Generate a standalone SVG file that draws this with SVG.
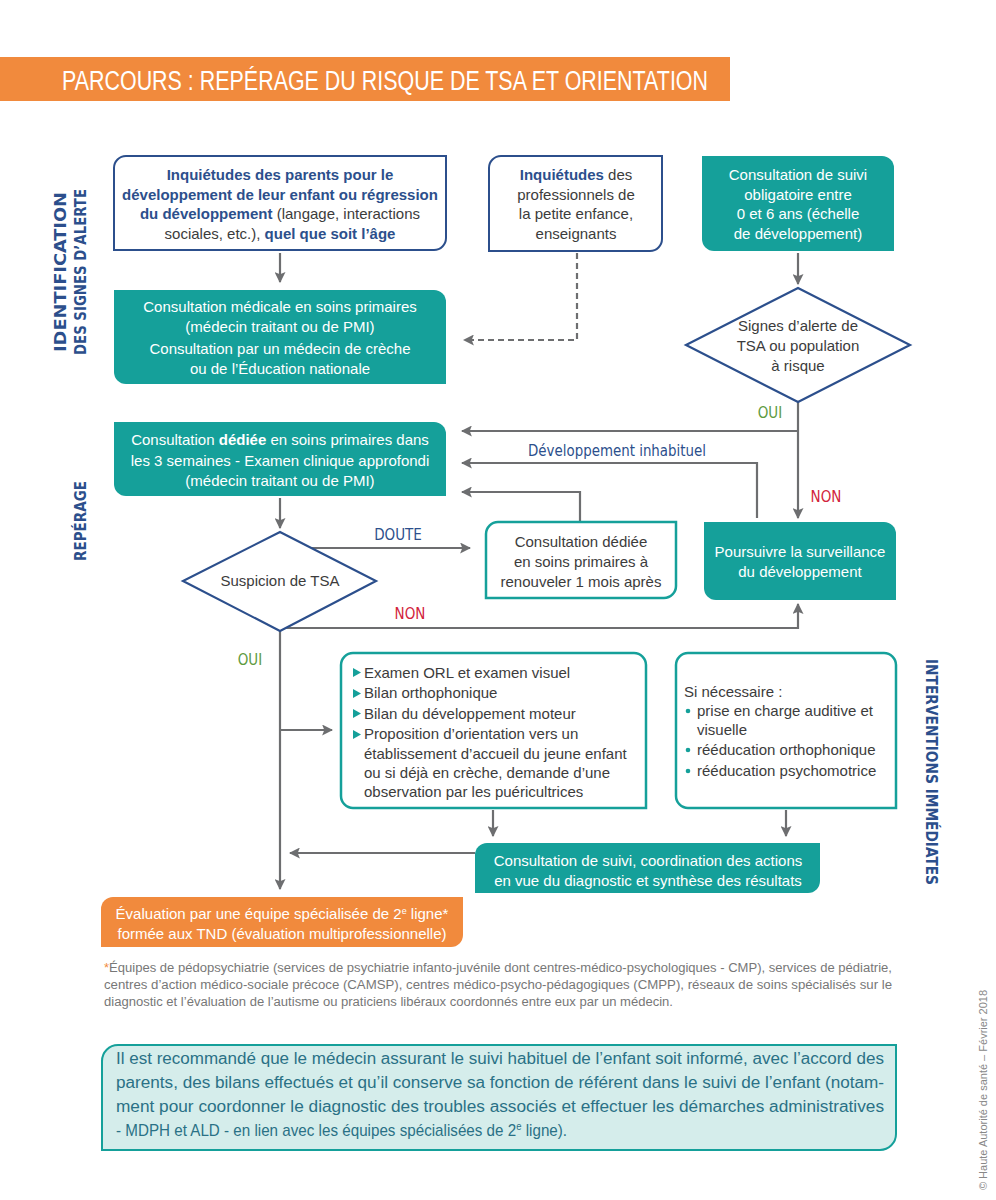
<svg xmlns="http://www.w3.org/2000/svg" width="996" height="1200" viewBox="0 0 996 1200">
<defs>
<marker id="ah" viewBox="0 0 10 10" refX="9" refY="5" markerWidth="11" markerHeight="11" markerUnits="userSpaceOnUse" orient="auto">
<path d="M0,0 L10,5 L0,10 L2,5 Z" fill="#6d6e70"/>
</marker>
<style>
text{font-family:"Liberation Sans",Arial,sans-serif;}
.t{font-size:15px;fill:#3c3c3c;}
.w{font-size:15px;fill:#ffffff;}
.b{font-weight:bold;fill:#2c4f8c;}
.blue{fill:#ffffff;stroke:#2c4f8c;stroke-width:2;}
.teal{fill:#15a09a;}
.tealb{fill:#ffffff;stroke:#15a09a;stroke-width:2.5;}
.ln{fill:none;stroke:#6d6e70;stroke-width:2.2;}
.lab{font-family:"DejaVu Sans Condensed","Liberation Sans",sans-serif;font-size:15px;}
.side{font-family:"DejaVu Sans Condensed","Liberation Sans",sans-serif;font-size:16px;font-weight:bold;fill:#2c4f8c;}
.fn{font-size:12px;fill:#777777;}
.bt{font-size:16px;fill:#2a7186;}
</style>
</defs>
<rect width="996" height="1200" fill="#ffffff"/>

<g id="title">
<rect x="0" y="57" width="730" height="44" fill="#f18a3d"/>
<text x="62" y="90" font-family="DejaVu Sans Condensed, Liberation Sans, sans-serif" font-size="27" fill="#ffffff" textLength="646" lengthAdjust="spacingAndGlyphs">PARCOURS : REPÉRAGE DU RISQUE DE TSA ET ORIENTATION</text>
</g>

<g id="side-labels">
<text class="side" transform="translate(66,272) rotate(-90)" text-anchor="middle" textLength="160" lengthAdjust="spacingAndGlyphs">IDENTIFICATION</text>
<text class="side" transform="translate(86,272) rotate(-90)" text-anchor="middle" textLength="166" lengthAdjust="spacingAndGlyphs">DES SIGNES D’ALERTE</text>
<text class="side" transform="translate(86,521) rotate(-90)" text-anchor="middle" textLength="80" lengthAdjust="spacingAndGlyphs">REPÉRAGE</text>
<text class="side" transform="translate(926,772) rotate(90)" text-anchor="middle" textLength="226" lengthAdjust="spacingAndGlyphs">INTERVENTIONS IMMÉDIATES</text>
</g>

<g id="connectors">
<line class="ln" x1="280" y1="253" x2="280" y2="282" marker-end="url(#ah)"/>
<path class="ln" d="M577,253 V340 H464" stroke-dasharray="6,4" marker-end="url(#ah)"/>
<line class="ln" x1="798" y1="253" x2="798" y2="284" marker-end="url(#ah)"/>
<line class="ln" x1="798" y1="402" x2="798" y2="518" marker-end="url(#ah)"/>
<path class="ln" d="M798,431 H462" marker-end="url(#ah)"/>
<path class="ln" d="M757,518 V463 H462" marker-end="url(#ah)"/>
<path class="ln" d="M580,521 V492 H462" marker-end="url(#ah)"/>
<line class="ln" x1="280" y1="498" x2="280" y2="528" marker-end="url(#ah)"/>
<path class="ln" d="M311,548 H470" marker-end="url(#ah)"/>
<path class="ln" d="M280,628 H798 V604" marker-end="url(#ah)"/>
<line class="ln" x1="280" y1="631" x2="280" y2="889" marker-end="url(#ah)"/>
<path class="ln" d="M280,730 H332" marker-end="url(#ah)"/>
<line class="ln" x1="493" y1="810" x2="493" y2="836" marker-end="url(#ah)"/>
<line class="ln" x1="786" y1="810" x2="786" y2="836" marker-end="url(#ah)"/>
<path class="ln" d="M475,853 H290" marker-end="url(#ah)"/>
<text class="lab" x="770" y="418" fill="#5d9a3e" text-anchor="middle">OUI</text>
<text class="lab" x="617" y="456" fill="#2c4f8c" text-anchor="middle" textLength="178" lengthAdjust="spacingAndGlyphs">Développement inhabituel</text>
<text class="lab" x="826" y="502" fill="#d2233c" text-anchor="middle">NON</text>
<text class="lab" x="398" y="540" fill="#2c4f8c" text-anchor="middle">DOUTE</text>
<text class="lab" x="410" y="619" fill="#d2233c" text-anchor="middle">NON</text>
<text class="lab" x="250" y="665" fill="#5d9a3e" text-anchor="middle">OUI</text>
</g>

<g id="n-parents">
<path class="blue" d="M114,168 A12,12 0 0 1 126,156 H446 V238 A12,12 0 0 1 434,250 H114 Z"/>
<text class="t" text-anchor="middle" x="280" y="180"><tspan class="b">Inquiétudes des parents pour le</tspan></text>
<text class="t" text-anchor="middle" x="280" y="200"><tspan class="b">développement de leur enfant ou régression</tspan></text>
<text class="t" text-anchor="middle" x="280" y="219"><tspan class="b">du développement</tspan> (langage, interactions</text>
<text class="t" text-anchor="middle" x="280" y="239">sociales, etc.), <tspan class="b">quel que soit l’âge</tspan></text>
</g>

<g id="n-pros">
<path class="blue" d="M489,168 A12,12 0 0 1 501,156 H662 V239 A12,12 0 0 1 650,251 H489 Z"/>
<text class="t" text-anchor="middle" x="576" y="180"><tspan class="b">Inquiétudes</tspan> des</text>
<text class="t" text-anchor="middle" x="576" y="200">professionnels de</text>
<text class="t" text-anchor="middle" x="576" y="219">la petite enfance,</text>
<text class="t" text-anchor="middle" x="576" y="239">enseignants</text>
</g>

<g id="n-suivi">
<path class="teal" d="M702,156 H882 A12,12 0 0 1 894,168 V251 H714 A12,12 0 0 1 702,239 Z"/>
<text class="w" text-anchor="middle" x="798" y="180">Consultation de suivi</text>
<text class="w" text-anchor="middle" x="798" y="200">obligatoire entre</text>
<text class="w" text-anchor="middle" x="798" y="219">0 et 6 ans (échelle</text>
<text class="w" text-anchor="middle" x="798" y="239">de développement)</text>
</g>

<g id="n-medicale">
<path class="teal" d="M114,290 H434 A12,12 0 0 1 446,302 V384 H126 A12,12 0 0 1 114,372 Z"/>
<text class="w" text-anchor="middle" x="280" y="312">Consultation médicale en soins primaires</text>
<text class="w" text-anchor="middle" x="280" y="332">(médecin traitant ou de PMI)</text>
<text class="w" text-anchor="middle" x="280" y="354">Consultation par un médecin de crèche</text>
<text class="w" text-anchor="middle" x="280" y="374">ou de l’Éducation nationale</text>
</g>

<g id="n-signes">
<polygon points="798,288 910,345 798,402 686,345" fill="#ffffff" stroke="#2c4f8c" stroke-width="2.2"/>
<text class="t" text-anchor="middle" x="798" y="331">Signes d’alerte de</text>
<text class="t" text-anchor="middle" x="798" y="351">TSA ou population</text>
<text class="t" text-anchor="middle" x="798" y="371">à risque</text>
</g>

<g id="n-dediee">
<path class="teal" d="M114,422 H434 A12,12 0 0 1 446,434 V496 H126 A12,12 0 0 1 114,484 Z"/>
<text class="w" text-anchor="middle" x="280" y="445">Consultation <tspan font-weight="bold">dédiée</tspan> en soins primaires dans</text>
<text class="w" text-anchor="middle" x="280" y="466">les 3 semaines - Examen clinique approfondi</text>
<text class="w" text-anchor="middle" x="280" y="486">(médecin traitant ou de PMI)</text>
</g>

<g id="n-suspicion">
<polygon points="280,532 376,581 280,631 183,581" fill="#ffffff" stroke="#2c4f8c" stroke-width="2.2"/>
<text class="t" text-anchor="middle" x="280" y="586">Suspicion de TSA</text>
</g>

<g id="n-renouveler">
<path class="tealb" d="M486,534 A12,12 0 0 1 498,522 H676 V586 A12,12 0 0 1 664,598 H486 Z"/>
<text class="t" text-anchor="middle" x="581" y="547">Consultation dédiée</text>
<text class="t" text-anchor="middle" x="581" y="567">en soins primaires à</text>
<text class="t" text-anchor="middle" x="581" y="587">renouveler 1 mois après</text>
</g>

<g id="n-poursuivre">
<path class="teal" d="M704,522 H884 A12,12 0 0 1 896,534 V600 H716 A12,12 0 0 1 704,588 Z"/>
<text class="w" text-anchor="middle" x="800" y="557">Poursuivre la surveillance</text>
<text class="w" text-anchor="middle" x="800" y="577">du développement</text>
</g>

<g id="n-examens">
<path class="tealb" d="M341,665 A12,12 0 0 1 353,653 H634 A12,12 0 0 1 646,665 V808 H353 A12,12 0 0 1 341,796 Z"/>
<g fill="#15a09a">
<polygon points="353,668 361,672.5 353,677"/>
<polygon points="353,689 361,693.5 353,698"/>
<polygon points="353,709 361,713.5 353,718"/>
<polygon points="353,730 361,734.5 353,739"/>
</g>
<text class="t" x="364" y="678">Examen ORL et examen visuel</text>
<text class="t" x="364" y="698">Bilan orthophonique</text>
<text class="t" x="364" y="719">Bilan du développement moteur</text>
<text class="t" x="364" y="739">Proposition d’orientation vers un</text>
<text class="t" x="364" y="759">établissement d’accueil du jeune enfant</text>
<text class="t" x="364" y="778">ou si déjà en crèche, demande d’une</text>
<text class="t" x="364" y="797">observation par les puéricultrices</text>
</g>

<g id="n-sinecessaire">
<path class="tealb" d="M676,665 A12,12 0 0 1 688,653 H884 A12,12 0 0 1 896,665 V808 H688 A12,12 0 0 1 676,796 Z"/>
<g fill="#15a09a">
<circle cx="688" cy="711" r="2.3"/>
<circle cx="688" cy="750" r="2.3"/>
<circle cx="688" cy="771" r="2.3"/>
</g>
<text class="t" x="684" y="697">Si nécessaire :</text>
<text class="t" x="697" y="716">prise en charge auditive et</text>
<text class="t" x="697" y="735">visuelle</text>
<text class="t" x="697" y="755">rééducation orthophonique</text>
<text class="t" x="697" y="776">rééducation psychomotrice</text>
</g>

<g id="n-coordination">
<path class="teal" d="M475,855 A12,12 0 0 1 487,843 H820 V881 A12,12 0 0 1 808,893 H475 Z"/>
<text class="w" text-anchor="middle" x="648" y="866">Consultation de suivi, coordination des actions</text>
<text class="w" text-anchor="middle" x="648" y="886">en vue du diagnostic et synthèse des résultats</text>
</g>

<g id="n-evaluation">
<path fill="#f18a3d" d="M101,909 A12,12 0 0 1 113,897 H463 V935 A12,12 0 0 1 451,947 H101 Z"/>
<text class="w" text-anchor="middle" x="282" y="919">Évaluation par une équipe spécialisée de 2<tspan font-size="9" dy="-5">e</tspan><tspan dy="5"> ligne*</tspan></text>
<text class="w" text-anchor="middle" x="282" y="939">formée aux TND (évaluation multiprofessionnelle)</text>
</g>

<g id="footnote">
<text class="fn" x="104" y="972" textLength="788" lengthAdjust="spacingAndGlyphs"><tspan fill="#f18a3d">*</tspan>Équipes de pédopsychiatrie (services de psychiatrie infanto-juvénile dont centres-médico-psychologiques - CMP), services de pédiatrie,</text>
<text class="fn" x="104" y="989" textLength="788" lengthAdjust="spacingAndGlyphs">centres d’action médico-sociale précoce (CAMSP), centres médico-psycho-pédagogiques (CMPP), réseaux de soins spécialisés sur le</text>
<text class="fn" x="104" y="1006" textLength="569" lengthAdjust="spacingAndGlyphs">diagnostic et l’évaluation de l’autisme ou praticiens libéraux coordonnés entre eux par un médecin.</text>
</g>

<g id="n-recommandation">
<path d="M102,1061 A16,16 0 0 1 118,1045 H896 V1134 A16,16 0 0 1 880,1150 H102 Z" fill="#d5edeb" stroke="#15a09a" stroke-width="2"/>
<text class="bt" x="116" y="1064" textLength="768" lengthAdjust="spacingAndGlyphs">Il est recommandé que le médecin assurant le suivi habituel de l’enfant soit informé, avec l’accord des</text>
<text class="bt" x="116" y="1088" textLength="768" lengthAdjust="spacingAndGlyphs">parents, des bilans effectués et qu’il conserve sa fonction de référent dans le suivi de l’enfant (notam-</text>
<text class="bt" x="116" y="1112" textLength="768" lengthAdjust="spacingAndGlyphs">ment pour coordonner le diagnostic des troubles associés et effectuer les démarches administratives</text>
<g transform="translate(116,0) scale(0.95,1)">
<text class="bt" x="0" y="1136">- MDPH et ALD - en lien avec les équipes spécialisées de 2<tspan font-size="10" dy="-6">e</tspan><tspan dy="6"> ligne).</tspan></text>
</g>
</g>

<g id="copyright">
<text transform="translate(987,1090) rotate(-90)" text-anchor="middle" font-size="11" fill="#888888">© Haute Autorité de santé – Février 2018</text>
</g>
</svg>
